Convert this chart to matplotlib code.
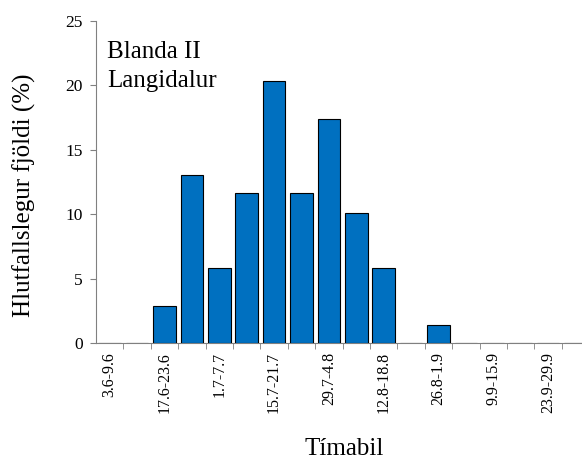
import numpy as np
import matplotlib
matplotlib.use("Agg")
import matplotlib.pyplot as plt

plt.rcParams['font.family'] = ['Liberation Serif', 'DejaVu Serif']

periods = ["3.6-9.6", "10.6-16.6", "17.6-23.6", "24.6-30.6", "1.7-7.7", "8.7-14.7",
           "15.7-21.7", "22.7-28.7", "29.7-4.8", "5.8-11.8", "12.8-18.8", "19.8-25.8",
           "26.8-1.9", "2.9-8.9", "9.9-15.9", "16.9-22.9", "23.9-29.9", "30.9-6.10"]
percent = [0, 0, 2.9, 13.0, 5.8, 11.6, 20.3, 11.6, 17.4, 10.1, 5.8, 0, 1.4, 0, 0, 0, 0, 0]
yticks = [0, 5, 10, 15, 20, 25]

fig = plt.figure(figsize=(5.82, 4.63), dpi=100)
ax = fig.add_axes([0.165, 0.2592, 0.835, 0.6961])

x = np.arange(len(periods))
ax.bar(x, percent, width=0.82, color='#0070C0', edgecolor='black', linewidth=0.8, zorder=3)

ax.set_xlim(-0.5, 17.24)
ax.set_ylim(0, 25)
ax.set_yticks(yticks)
ax.set_yticklabels([str(v) for v in yticks], fontsize=12.5)

# every second period is labelled
shown = [p if i % 2 == 0 else "" for i, p in enumerate(periods)]
ax.set_xticks(x)
ax.set_xticklabels(shown, rotation=90, fontsize=11.5)
ax.tick_params(axis='x', which='major', length=0, pad=6.5)
ax.set_xticks(x[:-1] + 0.5, minor=True)
ax.tick_params(axis='x', which='minor', length=4, direction='out', color='#808080')
ax.tick_params(axis='y', length=4, direction='out', color='#808080', pad=5.5)

for s in ['top', 'right']:
    ax.spines[s].set_visible(False)
for s in ['left', 'bottom']:
    ax.spines[s].set_color('#808080')

fig.text(0.041, 0.579, "Hlutfallslegur fjöldi (%)", fontsize=18, rotation=90,
         ha='center', va='center')
fig.text(0.591, 0.017, "Tímabil", fontsize=18, ha='center', va='baseline')

fig.text(0.184, 0.8747, "Blanda II", fontsize=18, va='baseline')
fig.text(0.184, 0.8114, "Langidalur", fontsize=18, va='baseline')

fig.savefig("out.png", dpi=100)
